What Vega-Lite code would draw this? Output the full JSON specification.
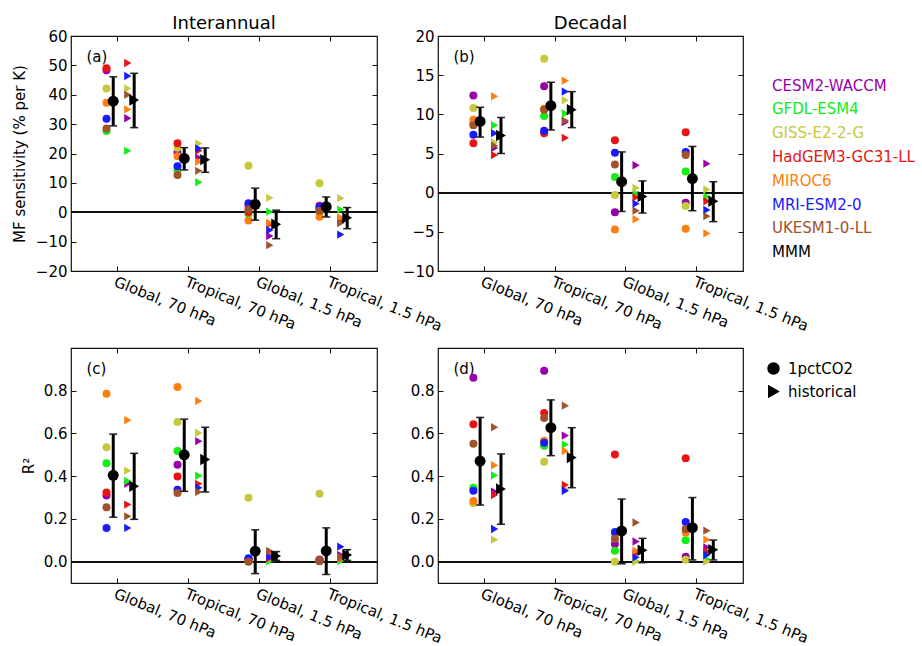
{
  "$schema": "https://vega.github.io/schema/vega-lite/v6.json",
  "padding": {"left": 11, "top": 14, "right": 0, "bottom": 0},
  "background": "white",
  "config": {
    "font": "DejaVu Sans",
    "view": {"stroke": "#111", "strokeWidth": 1.2},
    "axis": {"labelFont": "DejaVu Sans", "titleFont": "DejaVu Sans", "labelColor": "#000", "titleColor": "#000", "tickColor": "#111", "grid": false, "domain": false},
    "point": {"filled": true, "opacity": 1},
    "title": {"font": "DejaVu Sans", "fontWeight": "normal", "color": "#000"}
  },
  "data": {"name": "mf"},
  "bounds": "flush",
  "columns": 2,
  "spacing": {"row": 77, "column": 61},
  "concat": [
    {
      "width": 306, "height": 235,
      "title": {"text": "Interannual", "anchor": "middle", "frame": "group", "fontSize": 18, "offset": -4},
      "transform": [{"filter": "datum.panel === 'a'"}],
      "resolve": {"axis": {"x": "independent", "y": "independent"}},
      "layer": [
        {"mark": {"type": "rule", "color": "#111", "strokeWidth": 1.3}, "encoding": {"y": {"datum": 0, "type": "quantitative", "axis": null}}},
        {"transform": [{"filter": "datum.run === '1pctCO2' && datum.model !== 'MMM'"}],
         "mark": {"type": "point", "size": 64},
         "encoding": {
           "x": {"field": "region", "type": "nominal", "sort": ["Global, 70 hPa", "Tropical, 70 hPa", "Global, 1.5 hPa", "Tropical, 1.5 hPa"], "bandPosition": 0.345, "scale": {"paddingInner": 0, "paddingOuter": 0.155},
                 "axis": {"orient": "bottom", "title": null, "labelAngle": 22, "labelAlign": "left", "labelBaseline": "top", "labelFontSize": 15, "labelPadding": 3, "tickSize": 5, "offset": -5, "labelOverlap": false, "labelLimit": 0}},
           "y": {"field": "value", "type": "quantitative", "scale": {"domain": [-20, 60], "nice": false, "zero": false},
                 "axis": {"orient": "left", "title": "MF sensitivity (% per K)", "values": [-20, -10, 0, 10, 20, 30, 40, 50, 60], "labelFontSize": 15, "tickSize": 5, "offset": -5, "labelPadding": 4, "titleFontSize": 15, "titleFontWeight": "normal", "titlePadding": 8}},
           "color": {"field": "model", "type": "nominal",
                     "scale": {"domain": ["CESM2-WACCM", "GFDL-ESM4", "GISS-E2-2-G", "HadGEM3-GC31-LL", "MIROC6", "MRI-ESM2-0", "UKESM1-0-LL", "MMM"],
                               "range": ["#9900aa", "#11ee11", "#c8c83c", "#e81414", "#ff7f0e", "#1a1aff", "#a0522d", "#000000"]},
                     "legend": {"orient": "none", "legendX": 686, "legendY": 42, "title": null, "symbolSize": 0, "symbolOpacity": 0, "symbolStrokeWidth": 0, "labelOffset": 0, "labelFontSize": 15, "labelFont": "DejaVu Sans", "rowPadding": 7.8, "labelLimit": 0,
                                "encode": {"labels": {"update": {"fill": {"scale": "color", "field": "value"}}}}}},
           "shape": {"field": "run", "type": "nominal", "scale": {"domain": ["1pctCO2", "historical"], "range": ["circle", "triangle-right"]},
                     "legend": {"orient": "none", "legendX": 695, "legendY": 325, "title": null, "symbolSize": 120, "symbolOpacity": 1, "symbolFillColor": "black", "symbolStrokeColor": "black", "labelFontSize": 15, "labelFont": "DejaVu Sans", "labelOffset": 7, "rowPadding": 6,
                                "encode": {"symbols": {"update": {"fill": {"value": "black"}, "stroke": {"value": "black"}, "opacity": {"value": 1}}}}}}
         }},
        {"transform": [{"filter": "datum.run === 'historical' && datum.model !== 'MMM'"}],
         "mark": {"type": "point", "size": 70},
         "encoding": {
           "x": {"field": "region", "type": "nominal", "sort": ["Global, 70 hPa", "Tropical, 70 hPa", "Global, 1.5 hPa", "Tropical, 1.5 hPa"], "bandPosition": 0.645,
                 "axis": {"orient": "top", "title": "(a)", "titleX": 15, "titleY": 8, "titleAlign": "left", "titleBaseline": "top", "titleAngle": 0, "titleFontSize": 15, "titleFontWeight": "normal", "labels": false, "tickSize": 5, "offset": -5}},
           "y": {"field": "value", "type": "quantitative",
                 "axis": {"orient": "right", "title": null, "labels": false, "values": [-20, -10, 0, 10, 20, 30, 40, 50, 60], "tickSize": 5, "offset": -5}},
           "color": {"field": "model", "type": "nominal"},
           "shape": {"field": "run", "type": "nominal"}
         }},
        {"transform": [{"filter": "datum.run === '1pctCO2' && datum.model === 'MMM'"}],
         "mark": {"type": "rule", "color": "black", "strokeWidth": 3},
         "encoding": {"x": {"field": "region", "type": "nominal", "sort": ["Global, 70 hPa", "Tropical, 70 hPa", "Global, 1.5 hPa", "Tropical, 1.5 hPa"], "bandPosition": 0.44, "axis": null},
                      "y": {"field": "lo", "type": "quantitative", "axis": null}, "y2": {"field": "hi"}}},
        {"transform": [{"filter": "datum.run === '1pctCO2' && datum.model === 'MMM'"}, {"fold": ["lo", "hi"], "as": ["end", "cap"]}],
         "mark": {"type": "point", "shape": "M-1,0L1,0", "filled": false, "size": 64, "strokeWidth": 1.5, "color": "#222", "opacity": 1},
         "encoding": {"x": {"field": "region", "type": "nominal", "sort": ["Global, 70 hPa", "Tropical, 70 hPa", "Global, 1.5 hPa", "Tropical, 1.5 hPa"], "bandPosition": 0.44, "axis": null},
                      "y": {"field": "cap", "type": "quantitative", "axis": null}}},
        {"transform": [{"filter": "datum.run === '1pctCO2' && datum.model === 'MMM'"}],
         "mark": {"type": "point", "size": 120, "color": "black"},
         "encoding": {"x": {"field": "region", "type": "nominal", "sort": ["Global, 70 hPa", "Tropical, 70 hPa", "Global, 1.5 hPa", "Tropical, 1.5 hPa"], "bandPosition": 0.44, "axis": null},
                      "y": {"field": "value", "type": "quantitative", "axis": null},
                      "shape": {"field": "run", "type": "nominal"}}},
        {"transform": [{"filter": "datum.run === 'historical' && datum.model === 'MMM'"}],
         "mark": {"type": "rule", "color": "black", "strokeWidth": 3},
         "encoding": {"x": {"field": "region", "type": "nominal", "sort": ["Global, 70 hPa", "Tropical, 70 hPa", "Global, 1.5 hPa", "Tropical, 1.5 hPa"], "bandPosition": 0.735, "axis": null},
                      "y": {"field": "lo", "type": "quantitative", "axis": null}, "y2": {"field": "hi"}}},
        {"transform": [{"filter": "datum.run === 'historical' && datum.model === 'MMM'"}, {"fold": ["lo", "hi"], "as": ["end", "cap"]}],
         "mark": {"type": "point", "shape": "M-1,0L1,0", "filled": false, "size": 64, "strokeWidth": 1.5, "color": "#222", "opacity": 1},
         "encoding": {"x": {"field": "region", "type": "nominal", "sort": ["Global, 70 hPa", "Tropical, 70 hPa", "Global, 1.5 hPa", "Tropical, 1.5 hPa"], "bandPosition": 0.735, "axis": null},
                      "y": {"field": "cap", "type": "quantitative", "axis": null}}},
        {"transform": [{"filter": "datum.run === 'historical' && datum.model === 'MMM'"}],
         "mark": {"type": "point", "size": 130, "color": "black"},
         "encoding": {"x": {"field": "region", "type": "nominal", "sort": ["Global, 70 hPa", "Tropical, 70 hPa", "Global, 1.5 hPa", "Tropical, 1.5 hPa"], "bandPosition": 0.735, "axis": null},
                      "y": {"field": "value", "type": "quantitative", "axis": null},
                      "shape": {"field": "run", "type": "nominal"}}}
      ]
    },
    {
      "width": 305, "height": 235,
      "title": {"text": "Decadal", "anchor": "middle", "frame": "group", "fontSize": 18, "offset": -4},
      "transform": [{"filter": "datum.panel === 'b'"}],
      "resolve": {"axis": {"x": "independent", "y": "independent"}},
      "layer": [
        {"mark": {"type": "rule", "color": "#111", "strokeWidth": 1.3}, "encoding": {"y": {"datum": 0, "type": "quantitative", "axis": null}}},
        {"transform": [{"filter": "datum.run === '1pctCO2' && datum.model !== 'MMM'"}],
         "mark": {"type": "point", "size": 64},
         "encoding": {
           "x": {"field": "region", "type": "nominal", "sort": ["Global, 70 hPa", "Tropical, 70 hPa", "Global, 1.5 hPa", "Tropical, 1.5 hPa"], "bandPosition": 0.345, "scale": {"paddingInner": 0, "paddingOuter": 0.155},
                 "axis": {"orient": "bottom", "title": null, "labelAngle": 22, "labelAlign": "left", "labelBaseline": "top", "labelFontSize": 15, "labelPadding": 3, "tickSize": 5, "offset": -5, "labelOverlap": false, "labelLimit": 0}},
           "y": {"field": "value", "type": "quantitative", "scale": {"domain": [-10, 20], "nice": false, "zero": false},
                 "axis": {"orient": "left", "title": null, "values": [-10, -5, 0, 5, 10, 15, 20], "labelFontSize": 15, "tickSize": 5, "offset": -5, "labelPadding": 4}},
           "color": {"field": "model", "type": "nominal"},
           "shape": {"field": "run", "type": "nominal"}
         }},
        {"transform": [{"filter": "datum.run === 'historical' && datum.model !== 'MMM'"}],
         "mark": {"type": "point", "size": 70},
         "encoding": {
           "x": {"field": "region", "type": "nominal", "sort": ["Global, 70 hPa", "Tropical, 70 hPa", "Global, 1.5 hPa", "Tropical, 1.5 hPa"], "bandPosition": 0.645,
                 "axis": {"orient": "top", "title": "(b)", "titleX": 15, "titleY": 8, "titleAlign": "left", "titleBaseline": "top", "titleAngle": 0, "titleFontSize": 15, "titleFontWeight": "normal", "labels": false, "tickSize": 5, "offset": -5}},
           "y": {"field": "value", "type": "quantitative",
                 "axis": {"orient": "right", "title": null, "labels": false, "values": [-10, -5, 0, 5, 10, 15, 20], "tickSize": 5, "offset": -5}},
           "color": {"field": "model", "type": "nominal"},
           "shape": {"field": "run", "type": "nominal"}
         }},
        {"transform": [{"filter": "datum.run === '1pctCO2' && datum.model === 'MMM'"}],
         "mark": {"type": "rule", "color": "black", "strokeWidth": 3},
         "encoding": {"x": {"field": "region", "type": "nominal", "sort": ["Global, 70 hPa", "Tropical, 70 hPa", "Global, 1.5 hPa", "Tropical, 1.5 hPa"], "bandPosition": 0.44, "axis": null},
                      "y": {"field": "lo", "type": "quantitative", "axis": null}, "y2": {"field": "hi"}}},
        {"transform": [{"filter": "datum.run === '1pctCO2' && datum.model === 'MMM'"}, {"fold": ["lo", "hi"], "as": ["end", "cap"]}],
         "mark": {"type": "point", "shape": "M-1,0L1,0", "filled": false, "size": 64, "strokeWidth": 1.5, "color": "#222", "opacity": 1},
         "encoding": {"x": {"field": "region", "type": "nominal", "sort": ["Global, 70 hPa", "Tropical, 70 hPa", "Global, 1.5 hPa", "Tropical, 1.5 hPa"], "bandPosition": 0.44, "axis": null},
                      "y": {"field": "cap", "type": "quantitative", "axis": null}}},
        {"transform": [{"filter": "datum.run === '1pctCO2' && datum.model === 'MMM'"}],
         "mark": {"type": "point", "size": 120, "color": "black"},
         "encoding": {"x": {"field": "region", "type": "nominal", "sort": ["Global, 70 hPa", "Tropical, 70 hPa", "Global, 1.5 hPa", "Tropical, 1.5 hPa"], "bandPosition": 0.44, "axis": null},
                      "y": {"field": "value", "type": "quantitative", "axis": null},
                      "shape": {"field": "run", "type": "nominal"}}},
        {"transform": [{"filter": "datum.run === 'historical' && datum.model === 'MMM'"}],
         "mark": {"type": "rule", "color": "black", "strokeWidth": 3},
         "encoding": {"x": {"field": "region", "type": "nominal", "sort": ["Global, 70 hPa", "Tropical, 70 hPa", "Global, 1.5 hPa", "Tropical, 1.5 hPa"], "bandPosition": 0.735, "axis": null},
                      "y": {"field": "lo", "type": "quantitative", "axis": null}, "y2": {"field": "hi"}}},
        {"transform": [{"filter": "datum.run === 'historical' && datum.model === 'MMM'"}, {"fold": ["lo", "hi"], "as": ["end", "cap"]}],
         "mark": {"type": "point", "shape": "M-1,0L1,0", "filled": false, "size": 64, "strokeWidth": 1.5, "color": "#222", "opacity": 1},
         "encoding": {"x": {"field": "region", "type": "nominal", "sort": ["Global, 70 hPa", "Tropical, 70 hPa", "Global, 1.5 hPa", "Tropical, 1.5 hPa"], "bandPosition": 0.735, "axis": null},
                      "y": {"field": "cap", "type": "quantitative", "axis": null}}},
        {"transform": [{"filter": "datum.run === 'historical' && datum.model === 'MMM'"}],
         "mark": {"type": "point", "size": 130, "color": "black"},
         "encoding": {"x": {"field": "region", "type": "nominal", "sort": ["Global, 70 hPa", "Tropical, 70 hPa", "Global, 1.5 hPa", "Tropical, 1.5 hPa"], "bandPosition": 0.735, "axis": null},
                      "y": {"field": "value", "type": "quantitative", "axis": null},
                      "shape": {"field": "run", "type": "nominal"}}}
      ]
    },
    {
      "width": 306, "height": 235,
      "transform": [{"filter": "datum.panel === 'c'"}],
      "resolve": {"axis": {"x": "independent", "y": "independent"}},
      "layer": [
        {"mark": {"type": "rule", "color": "#111", "strokeWidth": 1.3}, "encoding": {"y": {"datum": 0, "type": "quantitative", "axis": null}}},
        {"transform": [{"filter": "datum.run === '1pctCO2' && datum.model !== 'MMM'"}],
         "mark": {"type": "point", "size": 64},
         "encoding": {
           "x": {"field": "region", "type": "nominal", "sort": ["Global, 70 hPa", "Tropical, 70 hPa", "Global, 1.5 hPa", "Tropical, 1.5 hPa"], "bandPosition": 0.345, "scale": {"paddingInner": 0, "paddingOuter": 0.155},
                 "axis": {"orient": "bottom", "title": null, "labelAngle": 22, "labelAlign": "left", "labelBaseline": "top", "labelFontSize": 15, "labelPadding": 3, "tickSize": 5, "offset": -5, "labelOverlap": false, "labelLimit": 0}},
           "y": {"field": "value", "type": "quantitative", "scale": {"domain": [-0.1, 1.0], "nice": false, "zero": false},
                 "axis": {"orient": "left", "title": "R²", "values": [0, 0.2, 0.4, 0.6, 0.8], "format": ".1f", "labelFontSize": 15, "tickSize": 5, "offset": -5, "labelPadding": 4, "titleFontSize": 15, "titleFontWeight": "normal", "titlePadding": 7}},
           "color": {"field": "model", "type": "nominal"},
           "shape": {"field": "run", "type": "nominal"}
         }},
        {"transform": [{"filter": "datum.run === 'historical' && datum.model !== 'MMM'"}],
         "mark": {"type": "point", "size": 70},
         "encoding": {
           "x": {"field": "region", "type": "nominal", "sort": ["Global, 70 hPa", "Tropical, 70 hPa", "Global, 1.5 hPa", "Tropical, 1.5 hPa"], "bandPosition": 0.645,
                 "axis": {"orient": "top", "title": "(c)", "titleX": 15, "titleY": 8, "titleAlign": "left", "titleBaseline": "top", "titleAngle": 0, "titleFontSize": 15, "titleFontWeight": "normal", "labels": false, "tickSize": 5, "offset": -5}},
           "y": {"field": "value", "type": "quantitative",
                 "axis": {"orient": "right", "title": null, "labels": false, "values": [0, 0.2, 0.4, 0.6, 0.8], "tickSize": 5, "offset": -5}},
           "color": {"field": "model", "type": "nominal"},
           "shape": {"field": "run", "type": "nominal"}
         }},
        {"transform": [{"filter": "datum.run === '1pctCO2' && datum.model === 'MMM'"}],
         "mark": {"type": "rule", "color": "black", "strokeWidth": 3},
         "encoding": {"x": {"field": "region", "type": "nominal", "sort": ["Global, 70 hPa", "Tropical, 70 hPa", "Global, 1.5 hPa", "Tropical, 1.5 hPa"], "bandPosition": 0.44, "axis": null},
                      "y": {"field": "lo", "type": "quantitative", "axis": null}, "y2": {"field": "hi"}}},
        {"transform": [{"filter": "datum.run === '1pctCO2' && datum.model === 'MMM'"}, {"fold": ["lo", "hi"], "as": ["end", "cap"]}],
         "mark": {"type": "point", "shape": "M-1,0L1,0", "filled": false, "size": 64, "strokeWidth": 1.5, "color": "#222", "opacity": 1},
         "encoding": {"x": {"field": "region", "type": "nominal", "sort": ["Global, 70 hPa", "Tropical, 70 hPa", "Global, 1.5 hPa", "Tropical, 1.5 hPa"], "bandPosition": 0.44, "axis": null},
                      "y": {"field": "cap", "type": "quantitative", "axis": null}}},
        {"transform": [{"filter": "datum.run === '1pctCO2' && datum.model === 'MMM'"}],
         "mark": {"type": "point", "size": 120, "color": "black"},
         "encoding": {"x": {"field": "region", "type": "nominal", "sort": ["Global, 70 hPa", "Tropical, 70 hPa", "Global, 1.5 hPa", "Tropical, 1.5 hPa"], "bandPosition": 0.44, "axis": null},
                      "y": {"field": "value", "type": "quantitative", "axis": null},
                      "shape": {"field": "run", "type": "nominal"}}},
        {"transform": [{"filter": "datum.run === 'historical' && datum.model === 'MMM'"}],
         "mark": {"type": "rule", "color": "black", "strokeWidth": 3},
         "encoding": {"x": {"field": "region", "type": "nominal", "sort": ["Global, 70 hPa", "Tropical, 70 hPa", "Global, 1.5 hPa", "Tropical, 1.5 hPa"], "bandPosition": 0.735, "axis": null},
                      "y": {"field": "lo", "type": "quantitative", "axis": null}, "y2": {"field": "hi"}}},
        {"transform": [{"filter": "datum.run === 'historical' && datum.model === 'MMM'"}, {"fold": ["lo", "hi"], "as": ["end", "cap"]}],
         "mark": {"type": "point", "shape": "M-1,0L1,0", "filled": false, "size": 64, "strokeWidth": 1.5, "color": "#222", "opacity": 1},
         "encoding": {"x": {"field": "region", "type": "nominal", "sort": ["Global, 70 hPa", "Tropical, 70 hPa", "Global, 1.5 hPa", "Tropical, 1.5 hPa"], "bandPosition": 0.735, "axis": null},
                      "y": {"field": "cap", "type": "quantitative", "axis": null}}},
        {"transform": [{"filter": "datum.run === 'historical' && datum.model === 'MMM'"}],
         "mark": {"type": "point", "size": 130, "color": "black"},
         "encoding": {"x": {"field": "region", "type": "nominal", "sort": ["Global, 70 hPa", "Tropical, 70 hPa", "Global, 1.5 hPa", "Tropical, 1.5 hPa"], "bandPosition": 0.735, "axis": null},
                      "y": {"field": "value", "type": "quantitative", "axis": null},
                      "shape": {"field": "run", "type": "nominal"}}}
      ]
    },
    {
      "width": 305, "height": 235,
      "transform": [{"filter": "datum.panel === 'd'"}],
      "resolve": {"axis": {"x": "independent", "y": "independent"}},
      "layer": [
        {"mark": {"type": "rule", "color": "#111", "strokeWidth": 1.3}, "encoding": {"y": {"datum": 0, "type": "quantitative", "axis": null}}},
        {"transform": [{"filter": "datum.run === '1pctCO2' && datum.model !== 'MMM'"}],
         "mark": {"type": "point", "size": 64},
         "encoding": {
           "x": {"field": "region", "type": "nominal", "sort": ["Global, 70 hPa", "Tropical, 70 hPa", "Global, 1.5 hPa", "Tropical, 1.5 hPa"], "bandPosition": 0.345, "scale": {"paddingInner": 0, "paddingOuter": 0.155},
                 "axis": {"orient": "bottom", "title": null, "labelAngle": 22, "labelAlign": "left", "labelBaseline": "top", "labelFontSize": 15, "labelPadding": 3, "tickSize": 5, "offset": -5, "labelOverlap": false, "labelLimit": 0}},
           "y": {"field": "value", "type": "quantitative", "scale": {"domain": [-0.1, 1.0], "nice": false, "zero": false},
                 "axis": {"orient": "left", "title": null, "values": [0, 0.2, 0.4, 0.6, 0.8], "format": ".1f", "labelFontSize": 15, "tickSize": 5, "offset": -5, "labelPadding": 4}},
           "color": {"field": "model", "type": "nominal"},
           "shape": {"field": "run", "type": "nominal"}
         }},
        {"transform": [{"filter": "datum.run === 'historical' && datum.model !== 'MMM'"}],
         "mark": {"type": "point", "size": 70},
         "encoding": {
           "x": {"field": "region", "type": "nominal", "sort": ["Global, 70 hPa", "Tropical, 70 hPa", "Global, 1.5 hPa", "Tropical, 1.5 hPa"], "bandPosition": 0.645,
                 "axis": {"orient": "top", "title": "(d)", "titleX": 15, "titleY": 8, "titleAlign": "left", "titleBaseline": "top", "titleAngle": 0, "titleFontSize": 15, "titleFontWeight": "normal", "labels": false, "tickSize": 5, "offset": -5}},
           "y": {"field": "value", "type": "quantitative",
                 "axis": {"orient": "right", "title": null, "labels": false, "values": [0, 0.2, 0.4, 0.6, 0.8], "tickSize": 5, "offset": -5}},
           "color": {"field": "model", "type": "nominal"},
           "shape": {"field": "run", "type": "nominal"}
         }},
        {"transform": [{"filter": "datum.run === '1pctCO2' && datum.model === 'MMM'"}],
         "mark": {"type": "rule", "color": "black", "strokeWidth": 3},
         "encoding": {"x": {"field": "region", "type": "nominal", "sort": ["Global, 70 hPa", "Tropical, 70 hPa", "Global, 1.5 hPa", "Tropical, 1.5 hPa"], "bandPosition": 0.44, "axis": null},
                      "y": {"field": "lo", "type": "quantitative", "axis": null}, "y2": {"field": "hi"}}},
        {"transform": [{"filter": "datum.run === '1pctCO2' && datum.model === 'MMM'"}, {"fold": ["lo", "hi"], "as": ["end", "cap"]}],
         "mark": {"type": "point", "shape": "M-1,0L1,0", "filled": false, "size": 64, "strokeWidth": 1.5, "color": "#222", "opacity": 1},
         "encoding": {"x": {"field": "region", "type": "nominal", "sort": ["Global, 70 hPa", "Tropical, 70 hPa", "Global, 1.5 hPa", "Tropical, 1.5 hPa"], "bandPosition": 0.44, "axis": null},
                      "y": {"field": "cap", "type": "quantitative", "axis": null}}},
        {"transform": [{"filter": "datum.run === '1pctCO2' && datum.model === 'MMM'"}],
         "mark": {"type": "point", "size": 120, "color": "black"},
         "encoding": {"x": {"field": "region", "type": "nominal", "sort": ["Global, 70 hPa", "Tropical, 70 hPa", "Global, 1.5 hPa", "Tropical, 1.5 hPa"], "bandPosition": 0.44, "axis": null},
                      "y": {"field": "value", "type": "quantitative", "axis": null},
                      "shape": {"field": "run", "type": "nominal"}}},
        {"transform": [{"filter": "datum.run === 'historical' && datum.model === 'MMM'"}],
         "mark": {"type": "rule", "color": "black", "strokeWidth": 3},
         "encoding": {"x": {"field": "region", "type": "nominal", "sort": ["Global, 70 hPa", "Tropical, 70 hPa", "Global, 1.5 hPa", "Tropical, 1.5 hPa"], "bandPosition": 0.735, "axis": null},
                      "y": {"field": "lo", "type": "quantitative", "axis": null}, "y2": {"field": "hi"}}},
        {"transform": [{"filter": "datum.run === 'historical' && datum.model === 'MMM'"}, {"fold": ["lo", "hi"], "as": ["end", "cap"]}],
         "mark": {"type": "point", "shape": "M-1,0L1,0", "filled": false, "size": 64, "strokeWidth": 1.5, "color": "#222", "opacity": 1},
         "encoding": {"x": {"field": "region", "type": "nominal", "sort": ["Global, 70 hPa", "Tropical, 70 hPa", "Global, 1.5 hPa", "Tropical, 1.5 hPa"], "bandPosition": 0.735, "axis": null},
                      "y": {"field": "cap", "type": "quantitative", "axis": null}}},
        {"transform": [{"filter": "datum.run === 'historical' && datum.model === 'MMM'"}],
         "mark": {"type": "point", "size": 130, "color": "black"},
         "encoding": {"x": {"field": "region", "type": "nominal", "sort": ["Global, 70 hPa", "Tropical, 70 hPa", "Global, 1.5 hPa", "Tropical, 1.5 hPa"], "bandPosition": 0.735, "axis": null},
                      "y": {"field": "value", "type": "quantitative", "axis": null},
                      "shape": {"field": "run", "type": "nominal"}}}
      ]
    }
  ],
  "datasets": {
    "mf": [
      {"panel":"a","region":"Global, 70 hPa","run":"1pctCO2","model":"CESM2-WACCM","value":48.3},
      {"panel":"a","region":"Global, 70 hPa","run":"1pctCO2","model":"GFDL-ESM4","value":27.7},
      {"panel":"a","region":"Global, 70 hPa","run":"1pctCO2","model":"GISS-E2-2-G","value":42.1},
      {"panel":"a","region":"Global, 70 hPa","run":"1pctCO2","model":"HadGEM3-GC31-LL","value":49.0},
      {"panel":"a","region":"Global, 70 hPa","run":"1pctCO2","model":"MIROC6","value":37.3},
      {"panel":"a","region":"Global, 70 hPa","run":"1pctCO2","model":"MRI-ESM2-0","value":31.8},
      {"panel":"a","region":"Global, 70 hPa","run":"1pctCO2","model":"UKESM1-0-LL","value":28.5},
      {"panel":"a","region":"Global, 70 hPa","run":"1pctCO2","model":"MMM","value":37.8,"lo":29.4,"hi":46.1},
      {"panel":"a","region":"Global, 70 hPa","run":"historical","model":"CESM2-WACCM","value":32.0},
      {"panel":"a","region":"Global, 70 hPa","run":"historical","model":"GFDL-ESM4","value":20.9},
      {"panel":"a","region":"Global, 70 hPa","run":"historical","model":"GISS-E2-2-G","value":42.1},
      {"panel":"a","region":"Global, 70 hPa","run":"historical","model":"HadGEM3-GC31-LL","value":50.8},
      {"panel":"a","region":"Global, 70 hPa","run":"historical","model":"MIROC6","value":35.0},
      {"panel":"a","region":"Global, 70 hPa","run":"historical","model":"MRI-ESM2-0","value":46.4},
      {"panel":"a","region":"Global, 70 hPa","run":"historical","model":"UKESM1-0-LL","value":40.0},
      {"panel":"a","region":"Global, 70 hPa","run":"historical","model":"MMM","value":38.2,"lo":28.8,"hi":47.3},
      {"panel":"a","region":"Tropical, 70 hPa","run":"1pctCO2","model":"CESM2-WACCM","value":20.3},
      {"panel":"a","region":"Tropical, 70 hPa","run":"1pctCO2","model":"GFDL-ESM4","value":14.4},
      {"panel":"a","region":"Tropical, 70 hPa","run":"1pctCO2","model":"GISS-E2-2-G","value":22.0},
      {"panel":"a","region":"Tropical, 70 hPa","run":"1pctCO2","model":"HadGEM3-GC31-LL","value":23.5},
      {"panel":"a","region":"Tropical, 70 hPa","run":"1pctCO2","model":"MIROC6","value":19.1},
      {"panel":"a","region":"Tropical, 70 hPa","run":"1pctCO2","model":"MRI-ESM2-0","value":15.7},
      {"panel":"a","region":"Tropical, 70 hPa","run":"1pctCO2","model":"UKESM1-0-LL","value":12.7},
      {"panel":"a","region":"Tropical, 70 hPa","run":"1pctCO2","model":"MMM","value":18.3,"lo":14.4,"hi":22.0},
      {"panel":"a","region":"Tropical, 70 hPa","run":"historical","model":"CESM2-WACCM","value":18.6},
      {"panel":"a","region":"Tropical, 70 hPa","run":"historical","model":"GFDL-ESM4","value":10.2},
      {"panel":"a","region":"Tropical, 70 hPa","run":"historical","model":"GISS-E2-2-G","value":23.4},
      {"panel":"a","region":"Tropical, 70 hPa","run":"historical","model":"HadGEM3-GC31-LL","value":20.9},
      {"panel":"a","region":"Tropical, 70 hPa","run":"historical","model":"MIROC6","value":17.2},
      {"panel":"a","region":"Tropical, 70 hPa","run":"historical","model":"MRI-ESM2-0","value":21.7},
      {"panel":"a","region":"Tropical, 70 hPa","run":"historical","model":"UKESM1-0-LL","value":14.1},
      {"panel":"a","region":"Tropical, 70 hPa","run":"historical","model":"MMM","value":17.9,"lo":13.6,"hi":21.9},
      {"panel":"a","region":"Global, 1.5 hPa","run":"1pctCO2","model":"CESM2-WACCM","value":2.2},
      {"panel":"a","region":"Global, 1.5 hPa","run":"1pctCO2","model":"GFDL-ESM4","value":-0.5},
      {"panel":"a","region":"Global, 1.5 hPa","run":"1pctCO2","model":"GISS-E2-2-G","value":15.8},
      {"panel":"a","region":"Global, 1.5 hPa","run":"1pctCO2","model":"HadGEM3-GC31-LL","value":0.1},
      {"panel":"a","region":"Global, 1.5 hPa","run":"1pctCO2","model":"MIROC6","value":-2.8},
      {"panel":"a","region":"Global, 1.5 hPa","run":"1pctCO2","model":"MRI-ESM2-0","value":3.1},
      {"panel":"a","region":"Global, 1.5 hPa","run":"1pctCO2","model":"UKESM1-0-LL","value":1.0},
      {"panel":"a","region":"Global, 1.5 hPa","run":"1pctCO2","model":"MMM","value":2.7,"lo":-2.7,"hi":8.2},
      {"panel":"a","region":"Global, 1.5 hPa","run":"historical","model":"CESM2-WACCM","value":-8.1},
      {"panel":"a","region":"Global, 1.5 hPa","run":"historical","model":"GFDL-ESM4","value":0.2},
      {"panel":"a","region":"Global, 1.5 hPa","run":"historical","model":"GISS-E2-2-G","value":4.9},
      {"panel":"a","region":"Global, 1.5 hPa","run":"historical","model":"HadGEM3-GC31-LL","value":-4.1},
      {"panel":"a","region":"Global, 1.5 hPa","run":"historical","model":"MIROC6","value":-3.6},
      {"panel":"a","region":"Global, 1.5 hPa","run":"historical","model":"MRI-ESM2-0","value":-6.1},
      {"panel":"a","region":"Global, 1.5 hPa","run":"historical","model":"UKESM1-0-LL","value":-11.2},
      {"panel":"a","region":"Global, 1.5 hPa","run":"historical","model":"MMM","value":-4.1,"lo":-9.0,"hi":0.7},
      {"panel":"a","region":"Tropical, 1.5 hPa","run":"1pctCO2","model":"CESM2-WACCM","value":2.2},
      {"panel":"a","region":"Tropical, 1.5 hPa","run":"1pctCO2","model":"GFDL-ESM4","value":0.1},
      {"panel":"a","region":"Tropical, 1.5 hPa","run":"1pctCO2","model":"GISS-E2-2-G","value":9.9},
      {"panel":"a","region":"Tropical, 1.5 hPa","run":"1pctCO2","model":"HadGEM3-GC31-LL","value":1.0},
      {"panel":"a","region":"Tropical, 1.5 hPa","run":"1pctCO2","model":"MIROC6","value":-1.5},
      {"panel":"a","region":"Tropical, 1.5 hPa","run":"1pctCO2","model":"MRI-ESM2-0","value":1.6},
      {"panel":"a","region":"Tropical, 1.5 hPa","run":"1pctCO2","model":"UKESM1-0-LL","value":0.5},
      {"panel":"a","region":"Tropical, 1.5 hPa","run":"1pctCO2","model":"MMM","value":1.9,"lo":-1.6,"hi":5.2},
      {"panel":"a","region":"Tropical, 1.5 hPa","run":"historical","model":"CESM2-WACCM","value":-3.4},
      {"panel":"a","region":"Tropical, 1.5 hPa","run":"historical","model":"GFDL-ESM4","value":0.9},
      {"panel":"a","region":"Tropical, 1.5 hPa","run":"historical","model":"GISS-E2-2-G","value":4.8},
      {"panel":"a","region":"Tropical, 1.5 hPa","run":"historical","model":"HadGEM3-GC31-LL","value":-2.5},
      {"panel":"a","region":"Tropical, 1.5 hPa","run":"historical","model":"MIROC6","value":-1.8},
      {"panel":"a","region":"Tropical, 1.5 hPa","run":"historical","model":"MRI-ESM2-0","value":-7.6},
      {"panel":"a","region":"Tropical, 1.5 hPa","run":"historical","model":"UKESM1-0-LL","value":-3.7},
      {"panel":"a","region":"Tropical, 1.5 hPa","run":"historical","model":"MMM","value":-1.9,"lo":-5.6,"hi":1.6},

      {"panel":"b","region":"Global, 70 hPa","run":"1pctCO2","model":"CESM2-WACCM","value":12.4},
      {"panel":"b","region":"Global, 70 hPa","run":"1pctCO2","model":"GFDL-ESM4","value":8.9},
      {"panel":"b","region":"Global, 70 hPa","run":"1pctCO2","model":"GISS-E2-2-G","value":10.8},
      {"panel":"b","region":"Global, 70 hPa","run":"1pctCO2","model":"HadGEM3-GC31-LL","value":6.3},
      {"panel":"b","region":"Global, 70 hPa","run":"1pctCO2","model":"MIROC6","value":9.3},
      {"panel":"b","region":"Global, 70 hPa","run":"1pctCO2","model":"MRI-ESM2-0","value":7.4},
      {"panel":"b","region":"Global, 70 hPa","run":"1pctCO2","model":"UKESM1-0-LL","value":8.6},
      {"panel":"b","region":"Global, 70 hPa","run":"1pctCO2","model":"MMM","value":9.1,"lo":7.1,"hi":10.9},
      {"panel":"b","region":"Global, 70 hPa","run":"historical","model":"CESM2-WACCM","value":5.7},
      {"panel":"b","region":"Global, 70 hPa","run":"historical","model":"GFDL-ESM4","value":8.6},
      {"panel":"b","region":"Global, 70 hPa","run":"historical","model":"GISS-E2-2-G","value":6.4},
      {"panel":"b","region":"Global, 70 hPa","run":"historical","model":"HadGEM3-GC31-LL","value":4.8},
      {"panel":"b","region":"Global, 70 hPa","run":"historical","model":"MIROC6","value":12.3},
      {"panel":"b","region":"Global, 70 hPa","run":"historical","model":"MRI-ESM2-0","value":7.6},
      {"panel":"b","region":"Global, 70 hPa","run":"historical","model":"UKESM1-0-LL","value":6.0},
      {"panel":"b","region":"Global, 70 hPa","run":"historical","model":"MMM","value":7.3,"lo":5.0,"hi":9.6},
      {"panel":"b","region":"Tropical, 70 hPa","run":"1pctCO2","model":"CESM2-WACCM","value":13.6},
      {"panel":"b","region":"Tropical, 70 hPa","run":"1pctCO2","model":"GFDL-ESM4","value":9.8},
      {"panel":"b","region":"Tropical, 70 hPa","run":"1pctCO2","model":"GISS-E2-2-G","value":17.1},
      {"panel":"b","region":"Tropical, 70 hPa","run":"1pctCO2","model":"HadGEM3-GC31-LL","value":7.6},
      {"panel":"b","region":"Tropical, 70 hPa","run":"1pctCO2","model":"MIROC6","value":10.7},
      {"panel":"b","region":"Tropical, 70 hPa","run":"1pctCO2","model":"MRI-ESM2-0","value":7.9},
      {"panel":"b","region":"Tropical, 70 hPa","run":"1pctCO2","model":"UKESM1-0-LL","value":10.6},
      {"panel":"b","region":"Tropical, 70 hPa","run":"1pctCO2","model":"MMM","value":11.1,"lo":8.0,"hi":14.1},
      {"panel":"b","region":"Tropical, 70 hPa","run":"historical","model":"CESM2-WACCM","value":9.0},
      {"panel":"b","region":"Tropical, 70 hPa","run":"historical","model":"GFDL-ESM4","value":10.1},
      {"panel":"b","region":"Tropical, 70 hPa","run":"historical","model":"GISS-E2-2-G","value":11.8},
      {"panel":"b","region":"Tropical, 70 hPa","run":"historical","model":"HadGEM3-GC31-LL","value":7.0},
      {"panel":"b","region":"Tropical, 70 hPa","run":"historical","model":"MIROC6","value":14.3},
      {"panel":"b","region":"Tropical, 70 hPa","run":"historical","model":"MRI-ESM2-0","value":12.9},
      {"panel":"b","region":"Tropical, 70 hPa","run":"historical","model":"UKESM1-0-LL","value":9.2},
      {"panel":"b","region":"Tropical, 70 hPa","run":"historical","model":"MMM","value":10.6,"lo":8.3,"hi":12.9},
      {"panel":"b","region":"Global, 1.5 hPa","run":"1pctCO2","model":"CESM2-WACCM","value":-2.5},
      {"panel":"b","region":"Global, 1.5 hPa","run":"1pctCO2","model":"GFDL-ESM4","value":2.0},
      {"panel":"b","region":"Global, 1.5 hPa","run":"1pctCO2","model":"GISS-E2-2-G","value":-0.3},
      {"panel":"b","region":"Global, 1.5 hPa","run":"1pctCO2","model":"HadGEM3-GC31-LL","value":6.7},
      {"panel":"b","region":"Global, 1.5 hPa","run":"1pctCO2","model":"MIROC6","value":-4.7},
      {"panel":"b","region":"Global, 1.5 hPa","run":"1pctCO2","model":"MRI-ESM2-0","value":5.1},
      {"panel":"b","region":"Global, 1.5 hPa","run":"1pctCO2","model":"UKESM1-0-LL","value":3.6},
      {"panel":"b","region":"Global, 1.5 hPa","run":"1pctCO2","model":"MMM","value":1.4,"lo":-2.4,"hi":5.2},
      {"panel":"b","region":"Global, 1.5 hPa","run":"historical","model":"CESM2-WACCM","value":3.5},
      {"panel":"b","region":"Global, 1.5 hPa","run":"historical","model":"GFDL-ESM4","value":-0.1},
      {"panel":"b","region":"Global, 1.5 hPa","run":"historical","model":"GISS-E2-2-G","value":0.6},
      {"panel":"b","region":"Global, 1.5 hPa","run":"historical","model":"HadGEM3-GC31-LL","value":-0.6},
      {"panel":"b","region":"Global, 1.5 hPa","run":"historical","model":"MIROC6","value":-3.4},
      {"panel":"b","region":"Global, 1.5 hPa","run":"historical","model":"MRI-ESM2-0","value":-1.4},
      {"panel":"b","region":"Global, 1.5 hPa","run":"historical","model":"UKESM1-0-LL","value":-2.3},
      {"panel":"b","region":"Global, 1.5 hPa","run":"historical","model":"MMM","value":-0.5,"lo":-2.6,"hi":1.5},
      {"panel":"b","region":"Tropical, 1.5 hPa","run":"1pctCO2","model":"CESM2-WACCM","value":-1.3},
      {"panel":"b","region":"Tropical, 1.5 hPa","run":"1pctCO2","model":"GFDL-ESM4","value":2.7},
      {"panel":"b","region":"Tropical, 1.5 hPa","run":"1pctCO2","model":"GISS-E2-2-G","value":-1.7},
      {"panel":"b","region":"Tropical, 1.5 hPa","run":"1pctCO2","model":"HadGEM3-GC31-LL","value":7.7},
      {"panel":"b","region":"Tropical, 1.5 hPa","run":"1pctCO2","model":"MIROC6","value":-4.6},
      {"panel":"b","region":"Tropical, 1.5 hPa","run":"1pctCO2","model":"MRI-ESM2-0","value":5.2},
      {"panel":"b","region":"Tropical, 1.5 hPa","run":"1pctCO2","model":"UKESM1-0-LL","value":4.8},
      {"panel":"b","region":"Tropical, 1.5 hPa","run":"1pctCO2","model":"MMM","value":1.8,"lo":-2.3,"hi":5.9},
      {"panel":"b","region":"Tropical, 1.5 hPa","run":"historical","model":"CESM2-WACCM","value":3.7},
      {"panel":"b","region":"Tropical, 1.5 hPa","run":"historical","model":"GFDL-ESM4","value":-0.5},
      {"panel":"b","region":"Tropical, 1.5 hPa","run":"historical","model":"GISS-E2-2-G","value":0.4},
      {"panel":"b","region":"Tropical, 1.5 hPa","run":"historical","model":"HadGEM3-GC31-LL","value":-1.1},
      {"panel":"b","region":"Tropical, 1.5 hPa","run":"historical","model":"MIROC6","value":-5.2},
      {"panel":"b","region":"Tropical, 1.5 hPa","run":"historical","model":"MRI-ESM2-0","value":-2.2},
      {"panel":"b","region":"Tropical, 1.5 hPa","run":"historical","model":"UKESM1-0-LL","value":-3.0},
      {"panel":"b","region":"Tropical, 1.5 hPa","run":"historical","model":"MMM","value":-1.1,"lo":-3.7,"hi":1.4},

      {"panel":"c","region":"Global, 70 hPa","run":"1pctCO2","model":"CESM2-WACCM","value":0.310},
      {"panel":"c","region":"Global, 70 hPa","run":"1pctCO2","model":"GFDL-ESM4","value":0.460},
      {"panel":"c","region":"Global, 70 hPa","run":"1pctCO2","model":"GISS-E2-2-G","value":0.536},
      {"panel":"c","region":"Global, 70 hPa","run":"1pctCO2","model":"HadGEM3-GC31-LL","value":0.324},
      {"panel":"c","region":"Global, 70 hPa","run":"1pctCO2","model":"MIROC6","value":0.786},
      {"panel":"c","region":"Global, 70 hPa","run":"1pctCO2","model":"MRI-ESM2-0","value":0.158},
      {"panel":"c","region":"Global, 70 hPa","run":"1pctCO2","model":"UKESM1-0-LL","value":0.254},
      {"panel":"c","region":"Global, 70 hPa","run":"1pctCO2","model":"MMM","value":0.404,"lo":0.208,"hi":0.597},
      {"panel":"c","region":"Global, 70 hPa","run":"historical","model":"CESM2-WACCM","value":0.364},
      {"panel":"c","region":"Global, 70 hPa","run":"historical","model":"GFDL-ESM4","value":0.378},
      {"panel":"c","region":"Global, 70 hPa","run":"historical","model":"GISS-E2-2-G","value":0.426},
      {"panel":"c","region":"Global, 70 hPa","run":"historical","model":"HadGEM3-GC31-LL","value":0.267},
      {"panel":"c","region":"Global, 70 hPa","run":"historical","model":"MIROC6","value":0.662},
      {"panel":"c","region":"Global, 70 hPa","run":"historical","model":"MRI-ESM2-0","value":0.158},
      {"panel":"c","region":"Global, 70 hPa","run":"historical","model":"UKESM1-0-LL","value":0.212},
      {"panel":"c","region":"Global, 70 hPa","run":"historical","model":"MMM","value":0.353,"lo":0.198,"hi":0.507},
      {"panel":"c","region":"Tropical, 70 hPa","run":"1pctCO2","model":"CESM2-WACCM","value":0.453},
      {"panel":"c","region":"Tropical, 70 hPa","run":"1pctCO2","model":"GFDL-ESM4","value":0.518},
      {"panel":"c","region":"Tropical, 70 hPa","run":"1pctCO2","model":"GISS-E2-2-G","value":0.654},
      {"panel":"c","region":"Tropical, 70 hPa","run":"1pctCO2","model":"HadGEM3-GC31-LL","value":0.398},
      {"panel":"c","region":"Tropical, 70 hPa","run":"1pctCO2","model":"MIROC6","value":0.817},
      {"panel":"c","region":"Tropical, 70 hPa","run":"1pctCO2","model":"MRI-ESM2-0","value":0.336},
      {"panel":"c","region":"Tropical, 70 hPa","run":"1pctCO2","model":"UKESM1-0-LL","value":0.321},
      {"panel":"c","region":"Tropical, 70 hPa","run":"1pctCO2","model":"MMM","value":0.500,"lo":0.329,"hi":0.667},
      {"panel":"c","region":"Tropical, 70 hPa","run":"historical","model":"CESM2-WACCM","value":0.564},
      {"panel":"c","region":"Tropical, 70 hPa","run":"historical","model":"GFDL-ESM4","value":0.402},
      {"panel":"c","region":"Tropical, 70 hPa","run":"historical","model":"GISS-E2-2-G","value":0.602},
      {"panel":"c","region":"Tropical, 70 hPa","run":"historical","model":"HadGEM3-GC31-LL","value":0.364},
      {"panel":"c","region":"Tropical, 70 hPa","run":"historical","model":"MIROC6","value":0.752},
      {"panel":"c","region":"Tropical, 70 hPa","run":"historical","model":"MRI-ESM2-0","value":0.346},
      {"panel":"c","region":"Tropical, 70 hPa","run":"historical","model":"UKESM1-0-LL","value":0.326},
      {"panel":"c","region":"Tropical, 70 hPa","run":"historical","model":"MMM","value":0.478,"lo":0.326,"hi":0.629},
      {"panel":"c","region":"Global, 1.5 hPa","run":"1pctCO2","model":"CESM2-WACCM","value":0.012},
      {"panel":"c","region":"Global, 1.5 hPa","run":"1pctCO2","model":"GFDL-ESM4","value":0.003},
      {"panel":"c","region":"Global, 1.5 hPa","run":"1pctCO2","model":"GISS-E2-2-G","value":0.299},
      {"panel":"c","region":"Global, 1.5 hPa","run":"1pctCO2","model":"HadGEM3-GC31-LL","value":0.010},
      {"panel":"c","region":"Global, 1.5 hPa","run":"1pctCO2","model":"MIROC6","value":0.003},
      {"panel":"c","region":"Global, 1.5 hPa","run":"1pctCO2","model":"MRI-ESM2-0","value":0.016},
      {"panel":"c","region":"Global, 1.5 hPa","run":"1pctCO2","model":"UKESM1-0-LL","value":0.000},
      {"panel":"c","region":"Global, 1.5 hPa","run":"1pctCO2","model":"MMM","value":0.049,"lo":-0.056,"hi":0.149},
      {"panel":"c","region":"Global, 1.5 hPa","run":"historical","model":"CESM2-WACCM","value":0.034},
      {"panel":"c","region":"Global, 1.5 hPa","run":"historical","model":"GFDL-ESM4","value":0.002},
      {"panel":"c","region":"Global, 1.5 hPa","run":"historical","model":"GISS-E2-2-G","value":0.011},
      {"panel":"c","region":"Global, 1.5 hPa","run":"historical","model":"HadGEM3-GC31-LL","value":0.016},
      {"panel":"c","region":"Global, 1.5 hPa","run":"historical","model":"MIROC6","value":0.042},
      {"panel":"c","region":"Global, 1.5 hPa","run":"historical","model":"MRI-ESM2-0","value":0.022},
      {"panel":"c","region":"Global, 1.5 hPa","run":"historical","model":"UKESM1-0-LL","value":0.050},
      {"panel":"c","region":"Global, 1.5 hPa","run":"historical","model":"MMM","value":0.026,"lo":0.006,"hi":0.047},
      {"panel":"c","region":"Tropical, 1.5 hPa","run":"1pctCO2","model":"CESM2-WACCM","value":0.010},
      {"panel":"c","region":"Tropical, 1.5 hPa","run":"1pctCO2","model":"GFDL-ESM4","value":0.002},
      {"panel":"c","region":"Tropical, 1.5 hPa","run":"1pctCO2","model":"GISS-E2-2-G","value":0.318},
      {"panel":"c","region":"Tropical, 1.5 hPa","run":"1pctCO2","model":"HadGEM3-GC31-LL","value":0.005},
      {"panel":"c","region":"Tropical, 1.5 hPa","run":"1pctCO2","model":"MIROC6","value":0.006},
      {"panel":"c","region":"Tropical, 1.5 hPa","run":"1pctCO2","model":"MRI-ESM2-0","value":0.004},
      {"panel":"c","region":"Tropical, 1.5 hPa","run":"1pctCO2","model":"UKESM1-0-LL","value":0.003},
      {"panel":"c","region":"Tropical, 1.5 hPa","run":"1pctCO2","model":"MMM","value":0.050,"lo":-0.060,"hi":0.158},
      {"panel":"c","region":"Tropical, 1.5 hPa","run":"historical","model":"CESM2-WACCM","value":0.031},
      {"panel":"c","region":"Tropical, 1.5 hPa","run":"historical","model":"GFDL-ESM4","value":0.003},
      {"panel":"c","region":"Tropical, 1.5 hPa","run":"historical","model":"GISS-E2-2-G","value":0.011},
      {"panel":"c","region":"Tropical, 1.5 hPa","run":"historical","model":"HadGEM3-GC31-LL","value":0.015},
      {"panel":"c","region":"Tropical, 1.5 hPa","run":"historical","model":"MIROC6","value":0.019},
      {"panel":"c","region":"Tropical, 1.5 hPa","run":"historical","model":"MRI-ESM2-0","value":0.070},
      {"panel":"c","region":"Tropical, 1.5 hPa","run":"historical","model":"UKESM1-0-LL","value":0.023},
      {"panel":"c","region":"Tropical, 1.5 hPa","run":"historical","model":"MMM","value":0.031,"lo":0.006,"hi":0.056},

      {"panel":"d","region":"Global, 70 hPa","run":"1pctCO2","model":"CESM2-WACCM","value":0.861},
      {"panel":"d","region":"Global, 70 hPa","run":"1pctCO2","model":"GFDL-ESM4","value":0.346},
      {"panel":"d","region":"Global, 70 hPa","run":"1pctCO2","model":"GISS-E2-2-G","value":0.273},
      {"panel":"d","region":"Global, 70 hPa","run":"1pctCO2","model":"HadGEM3-GC31-LL","value":0.643},
      {"panel":"d","region":"Global, 70 hPa","run":"1pctCO2","model":"MIROC6","value":0.284},
      {"panel":"d","region":"Global, 70 hPa","run":"1pctCO2","model":"MRI-ESM2-0","value":0.332},
      {"panel":"d","region":"Global, 70 hPa","run":"1pctCO2","model":"UKESM1-0-LL","value":0.552},
      {"panel":"d","region":"Global, 70 hPa","run":"1pctCO2","model":"MMM","value":0.471,"lo":0.265,"hi":0.675},
      {"panel":"d","region":"Global, 70 hPa","run":"historical","model":"CESM2-WACCM","value":0.328},
      {"panel":"d","region":"Global, 70 hPa","run":"historical","model":"GFDL-ESM4","value":0.404},
      {"panel":"d","region":"Global, 70 hPa","run":"historical","model":"GISS-E2-2-G","value":0.103},
      {"panel":"d","region":"Global, 70 hPa","run":"historical","model":"HadGEM3-GC31-LL","value":0.312},
      {"panel":"d","region":"Global, 70 hPa","run":"historical","model":"MIROC6","value":0.451},
      {"panel":"d","region":"Global, 70 hPa","run":"historical","model":"MRI-ESM2-0","value":0.153},
      {"panel":"d","region":"Global, 70 hPa","run":"historical","model":"UKESM1-0-LL","value":0.629},
      {"panel":"d","region":"Global, 70 hPa","run":"historical","model":"MMM","value":0.340,"lo":0.175,"hi":0.504},
      {"panel":"d","region":"Tropical, 70 hPa","run":"1pctCO2","model":"CESM2-WACCM","value":0.894},
      {"panel":"d","region":"Tropical, 70 hPa","run":"1pctCO2","model":"GFDL-ESM4","value":0.543},
      {"panel":"d","region":"Tropical, 70 hPa","run":"1pctCO2","model":"GISS-E2-2-G","value":0.468},
      {"panel":"d","region":"Tropical, 70 hPa","run":"1pctCO2","model":"HadGEM3-GC31-LL","value":0.696},
      {"panel":"d","region":"Tropical, 70 hPa","run":"1pctCO2","model":"MIROC6","value":0.566},
      {"panel":"d","region":"Tropical, 70 hPa","run":"1pctCO2","model":"MRI-ESM2-0","value":0.557},
      {"panel":"d","region":"Tropical, 70 hPa","run":"1pctCO2","model":"UKESM1-0-LL","value":0.672},
      {"panel":"d","region":"Tropical, 70 hPa","run":"1pctCO2","model":"MMM","value":0.627,"lo":0.496,"hi":0.757},
      {"panel":"d","region":"Tropical, 70 hPa","run":"historical","model":"CESM2-WACCM","value":0.590},
      {"panel":"d","region":"Tropical, 70 hPa","run":"historical","model":"GFDL-ESM4","value":0.548},
      {"panel":"d","region":"Tropical, 70 hPa","run":"historical","model":"GISS-E2-2-G","value":0.340},
      {"panel":"d","region":"Tropical, 70 hPa","run":"historical","model":"HadGEM3-GC31-LL","value":0.359},
      {"panel":"d","region":"Tropical, 70 hPa","run":"historical","model":"MIROC6","value":0.518},
      {"panel":"d","region":"Tropical, 70 hPa","run":"historical","model":"MRI-ESM2-0","value":0.332},
      {"panel":"d","region":"Tropical, 70 hPa","run":"historical","model":"UKESM1-0-LL","value":0.730},
      {"panel":"d","region":"Tropical, 70 hPa","run":"historical","model":"MMM","value":0.487,"lo":0.346,"hi":0.627},
      {"panel":"d","region":"Global, 1.5 hPa","run":"1pctCO2","model":"CESM2-WACCM","value":0.083},
      {"panel":"d","region":"Global, 1.5 hPa","run":"1pctCO2","model":"GFDL-ESM4","value":0.051},
      {"panel":"d","region":"Global, 1.5 hPa","run":"1pctCO2","model":"GISS-E2-2-G","value":0.000},
      {"panel":"d","region":"Global, 1.5 hPa","run":"1pctCO2","model":"HadGEM3-GC31-LL","value":0.502},
      {"panel":"d","region":"Global, 1.5 hPa","run":"1pctCO2","model":"MIROC6","value":0.125},
      {"panel":"d","region":"Global, 1.5 hPa","run":"1pctCO2","model":"MRI-ESM2-0","value":0.139},
      {"panel":"d","region":"Global, 1.5 hPa","run":"1pctCO2","model":"UKESM1-0-LL","value":0.106},
      {"panel":"d","region":"Global, 1.5 hPa","run":"1pctCO2","model":"MMM","value":0.144,"lo":-0.010,"hi":0.293},
      {"panel":"d","region":"Global, 1.5 hPa","run":"historical","model":"CESM2-WACCM","value":0.094},
      {"panel":"d","region":"Global, 1.5 hPa","run":"historical","model":"GFDL-ESM4","value":0.003},
      {"panel":"d","region":"Global, 1.5 hPa","run":"historical","model":"GISS-E2-2-G","value":0.000},
      {"panel":"d","region":"Global, 1.5 hPa","run":"historical","model":"HadGEM3-GC31-LL","value":0.039},
      {"panel":"d","region":"Global, 1.5 hPa","run":"historical","model":"MIROC6","value":0.051},
      {"panel":"d","region":"Global, 1.5 hPa","run":"historical","model":"MRI-ESM2-0","value":0.020},
      {"panel":"d","region":"Global, 1.5 hPa","run":"historical","model":"UKESM1-0-LL","value":0.183},
      {"panel":"d","region":"Global, 1.5 hPa","run":"historical","model":"MMM","value":0.053,"lo":-0.005,"hi":0.109},
      {"panel":"d","region":"Tropical, 1.5 hPa","run":"1pctCO2","model":"CESM2-WACCM","value":0.023},
      {"panel":"d","region":"Tropical, 1.5 hPa","run":"1pctCO2","model":"GFDL-ESM4","value":0.100},
      {"panel":"d","region":"Tropical, 1.5 hPa","run":"1pctCO2","model":"GISS-E2-2-G","value":0.009},
      {"panel":"d","region":"Tropical, 1.5 hPa","run":"1pctCO2","model":"HadGEM3-GC31-LL","value":0.484},
      {"panel":"d","region":"Tropical, 1.5 hPa","run":"1pctCO2","model":"MIROC6","value":0.136},
      {"panel":"d","region":"Tropical, 1.5 hPa","run":"1pctCO2","model":"MRI-ESM2-0","value":0.186},
      {"panel":"d","region":"Tropical, 1.5 hPa","run":"1pctCO2","model":"UKESM1-0-LL","value":0.153},
      {"panel":"d","region":"Tropical, 1.5 hPa","run":"1pctCO2","model":"MMM","value":0.159,"lo":0.008,"hi":0.300},
      {"panel":"d","region":"Tropical, 1.5 hPa","run":"historical","model":"CESM2-WACCM","value":0.067},
      {"panel":"d","region":"Tropical, 1.5 hPa","run":"historical","model":"GFDL-ESM4","value":0.012},
      {"panel":"d","region":"Tropical, 1.5 hPa","run":"historical","model":"GISS-E2-2-G","value":0.000},
      {"panel":"d","region":"Tropical, 1.5 hPa","run":"historical","model":"HadGEM3-GC31-LL","value":0.047},
      {"panel":"d","region":"Tropical, 1.5 hPa","run":"historical","model":"MIROC6","value":0.103},
      {"panel":"d","region":"Tropical, 1.5 hPa","run":"historical","model":"MRI-ESM2-0","value":0.031},
      {"panel":"d","region":"Tropical, 1.5 hPa","run":"historical","model":"UKESM1-0-LL","value":0.145},
      {"panel":"d","region":"Tropical, 1.5 hPa","run":"historical","model":"MMM","value":0.056,"lo":0.008,"hi":0.101}
    ]
  }
}
